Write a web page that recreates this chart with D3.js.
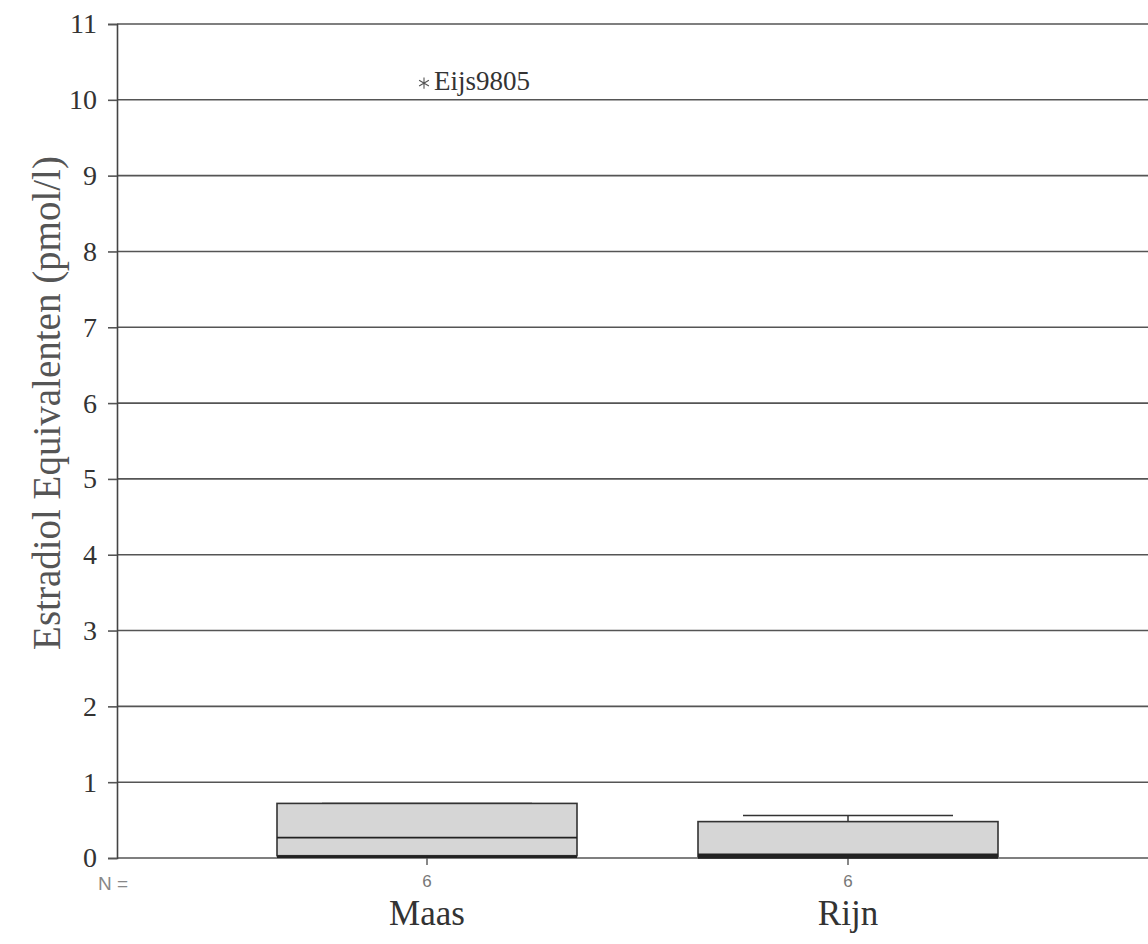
<!DOCTYPE html>
<html>
<head>
<meta charset="utf-8">
<script src="https://cdn.jsdelivr.net/npm/d3@7"></script>
<style>
  body { margin: 0; background: #fff; }
  svg { display: block; }
  .serif { font-family: "Liberation Serif", "DejaVu Serif", serif; }
  .sans { font-family: "Liberation Sans", "DejaVu Sans", sans-serif; }
</style>
</head>
<body>
<div id="chart"></div>
<script>
"use strict"

// data
const categories = ["Maas", "Rijn"];
const counts = [6, 6];
const mins = [0.0, 0.0];
const q1s = [0.03, 0.02];
const medians = [0.27, 0.04];
const q3s = [0.72, 0.48];
const maxs = [0.72, 0.56];
const outlierGroup = ["Maas"];
const outlierValue = [10.22];
const outlierLabel = ["Eijs9805"];
const yTicks = [0, 1, 2, 3, 4, 5, 6, 7, 8, 9, 10, 11];

const width = 1148, height = 944;
const plotLeft = 117, plotRight = 1148, plotTop = 24, plotBottom = 858;

const svg = d3.select("#chart").append("svg")
    .attr("width", width)
    .attr("height", height);

const y = d3.scaleLinear().domain([0, 11]).range([plotBottom, plotTop]);
const x = d3.scalePoint().domain(categories).range([427, 848]);
const boxW = 300, capW = 210;

// grid lines
svg.append("g").selectAll("line").data(yTicks).enter().append("line")
    .attr("x1", plotLeft).attr("x2", plotRight)
    .attr("y1", d => y(d)).attr("y2", d => y(d))
    .attr("stroke", "#555").attr("stroke-width", 1.6);

// y axis
const yAxis = d3.axisLeft(y).tickValues(yTicks).tickSize(9).tickPadding(11)
    .tickFormat(d3.format("d"));
const ga = svg.append("g").attr("transform", `translate(${plotLeft},0)`).call(yAxis);
ga.attr("font-family", null);
ga.select(".domain").attr("stroke", "#444").attr("stroke-width", 1.6);
ga.selectAll(".tick line").attr("stroke", "#555").attr("stroke-width", 1.6);
ga.selectAll(".tick text")
    .attr("class", "serif")
    .attr("font-size", 28).attr("fill", "#333");

// y title
svg.append("text")
    .attr("class", "serif")
    .attr("transform", `translate(60,403) rotate(-90)`)
    .attr("text-anchor", "middle")
    .attr("font-size", 39).attr("fill", "#555")
    .text("Estradiol Equivalenten (pmol/l)");

// category ticks
svg.append("g").selectAll("line").data(categories).enter().append("line")
    .attr("x1", d => x(d)).attr("x2", d => x(d))
    .attr("y1", plotBottom).attr("y2", plotBottom + 7)
    .attr("stroke", "#555").attr("stroke-width", 1.4);

// boxes
const boxes = svg.append("g").selectAll("g").data(categories).enter().append("g");

boxes.append("line")
    .attr("x1", d => x(d)).attr("x2", d => x(d))
    .attr("y1", (d, i) => y(maxs[i])).attr("y2", (d, i) => y(q3s[i]))
    .attr("stroke", "#333").attr("stroke-width", 1.5);
boxes.append("line")
    .attr("x1", d => x(d) - capW / 2).attr("x2", d => x(d) + capW / 2)
    .attr("y1", (d, i) => y(maxs[i])).attr("y2", (d, i) => y(maxs[i]))
    .attr("stroke", "#333").attr("stroke-width", 1.5);

boxes.append("rect")
    .attr("x", d => x(d) - boxW / 2)
    .attr("width", boxW)
    .attr("y", (d, i) => y(q3s[i]))
    .attr("height", (d, i) => y(q1s[i]) - y(q3s[i]))
    .attr("fill", "#d6d6d6")
    .attr("stroke", "#333").attr("stroke-width", 1.6);

boxes.append("line")
    .attr("x1", d => x(d) - boxW / 2).attr("x2", d => x(d) + boxW / 2)
    .attr("y1", (d, i) => y(medians[i])).attr("y2", (d, i) => y(medians[i]))
    .attr("stroke", "#222").attr("stroke-width", (d, i) => medians[i] < 0.1 ? 3 : 1.8);

boxes.append("line")
    .attr("x1", d => x(d) - boxW / 2).attr("x2", d => x(d) + boxW / 2)
    .attr("y1", (d, i) => y(q1s[i]) + 1).attr("y2", (d, i) => y(q1s[i]) + 1)
    .attr("stroke", "#222").attr("stroke-width", 2.5);

// outliers
const outl = svg.append("g").selectAll("g").data(outlierGroup).enter().append("g")
    .attr("transform", (d, i) => `translate(${x(d) - 3},${y(outlierValue[i])})`);
outl.append("path")
    .attr("d", d3.symbol(d3.symbolAsterisk, 90))
    .attr("fill", "none").attr("stroke", "#555").attr("stroke-width", 1.1);
outl.append("text")
    .attr("class", "serif")
    .attr("x", 10).attr("y", 7)
    .attr("font-size", 27).attr("fill", "#333")
    .text((d, i) => outlierLabel[i]);

// N row
svg.append("text")
    .attr("class", "sans")
    .attr("x", 98).attr("y", 890)
    .attr("font-size", 19).attr("fill", "#888")
    .text("N =");
svg.append("g").selectAll("text").data(categories).enter().append("text")
    .attr("class", "sans")
    .attr("x", d => x(d)).attr("y", 887)
    .attr("text-anchor", "middle")
    .attr("font-size", 17).attr("fill", "#777")
    .text((d, i) => counts[i]);

// category labels
svg.append("g").selectAll("text").data(categories).enter().append("text")
    .attr("class", "serif")
    .attr("x", d => x(d)).attr("y", 925)
    .attr("text-anchor", "middle")
    .attr("font-size", 35).attr("fill", "#333")
    .text(d => d);
</script>
</body>
</html>
